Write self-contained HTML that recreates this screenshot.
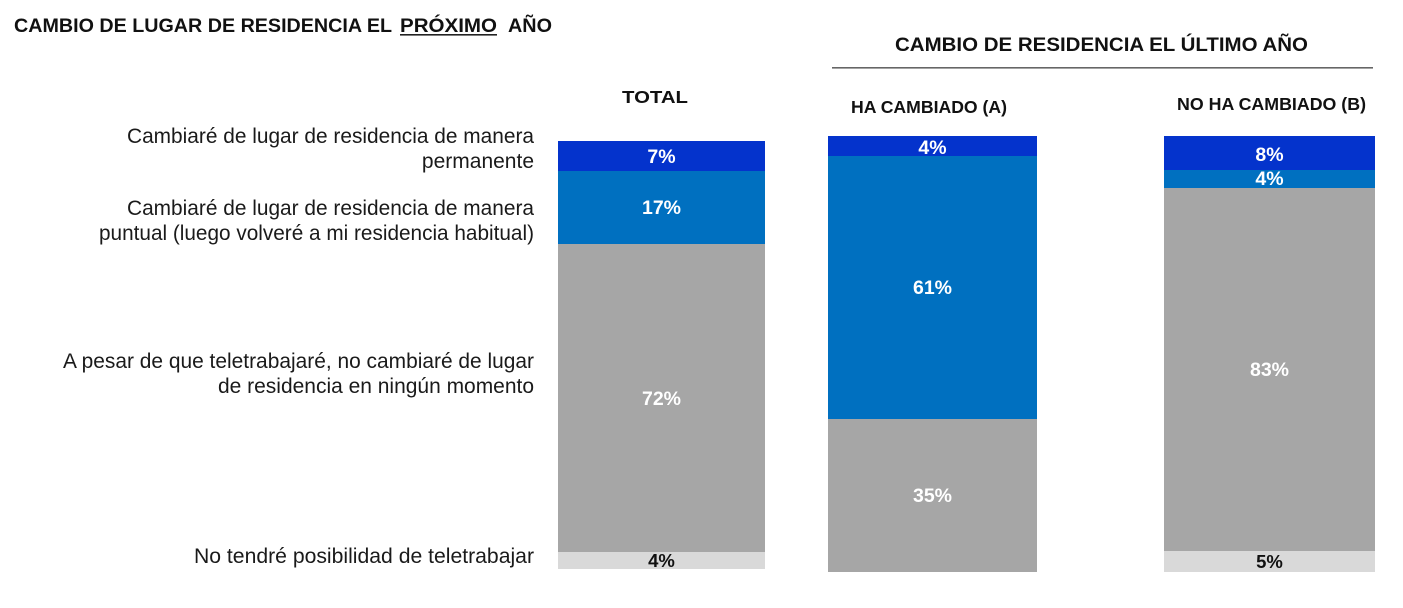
<!DOCTYPE html>
<html>
<head>
<meta charset="utf-8">
<style>
  html, body { margin: 0; padding: 0; background: #ffffff; }
  body { width: 1403px; height: 608px; overflow: hidden; }
  svg { display: block; }
  .t { font-family: "Liberation Sans", Arial, sans-serif; }
</style>
</head>
<body>
<svg width="1403" height="608" viewBox="0 0 1403 608" xmlns="http://www.w3.org/2000/svg">
  <rect x="0" y="0" width="1403" height="608" fill="#ffffff"/>

  <!-- Main title -->
  <g class="t" font-weight="bold" font-size="19" fill="#111">
    <text x="14" y="32" textLength="378" lengthAdjust="spacingAndGlyphs">CAMBIO DE LUGAR DE RESIDENCIA EL</text>
    <text x="400" y="32" textLength="97" lengthAdjust="spacingAndGlyphs">PRÓXIMO</text>
    <text x="508" y="32" textLength="44" lengthAdjust="spacingAndGlyphs">AÑO</text>
  </g>
  <rect x="400" y="34" width="97" height="1.6" fill="#222"/>

  <!-- Right header -->
  <text class="t" x="895" y="51" font-weight="bold" font-size="19" fill="#111" textLength="413" lengthAdjust="spacingAndGlyphs">CAMBIO DE RESIDENCIA EL ÚLTIMO AÑO</text>
  <rect x="832" y="67" width="541" height="1.6" fill="#666"/>

  <!-- Column headers -->
  <g class="t" font-weight="bold" font-size="17.5" fill="#111">
    <text x="622" y="103" textLength="66" lengthAdjust="spacingAndGlyphs">TOTAL</text>
    <text x="851" y="113" textLength="156" lengthAdjust="spacingAndGlyphs">HA CAMBIADO (A)</text>
    <text x="1177" y="110" textLength="189" lengthAdjust="spacingAndGlyphs">NO HA CAMBIADO (B)</text>
  </g>

  <!-- Category labels -->
  <g class="t" font-size="21" fill="#1a1a1a">
    <text x="127" y="143" textLength="407" lengthAdjust="spacingAndGlyphs">Cambiaré de lugar de residencia de manera</text>
    <text x="534" y="168" text-anchor="end">permanente</text>
    <text x="127" y="215" textLength="407" lengthAdjust="spacingAndGlyphs">Cambiaré de lugar de residencia de manera</text>
    <text x="99" y="240" textLength="435" lengthAdjust="spacingAndGlyphs">puntual (luego volveré a mi residencia habitual)</text>
    <text x="63" y="368" textLength="471" lengthAdjust="spacingAndGlyphs">A pesar de que teletrabajaré, no cambiaré de lugar</text>
    <text x="218" y="393" textLength="316" lengthAdjust="spacingAndGlyphs">de residencia en ningún momento</text>
    <text x="194" y="563" textLength="340" lengthAdjust="spacingAndGlyphs">No tendré posibilidad de teletrabajar</text>
  </g>

  <!-- Bar 1 TOTAL -->
  <rect x="558" y="141" width="207" height="30" fill="#0433CC"/>
  <rect x="558" y="171" width="207" height="73" fill="#0070C0"/>
  <rect x="558" y="244" width="207" height="308" fill="#A6A6A6"/>
  <rect x="558" y="552" width="207" height="17" fill="#D9D9D9"/>

  <!-- Bar 2 HA CAMBIADO -->
  <rect x="828" y="136" width="209" height="20" fill="#0433CC"/>
  <rect x="828" y="156" width="209" height="263" fill="#0070C0"/>
  <rect x="828" y="419" width="209" height="153" fill="#A6A6A6"/>

  <!-- Bar 3 NO HA CAMBIADO -->
  <rect x="1164" y="136" width="211" height="34" fill="#0433CC"/>
  <rect x="1164" y="170" width="211" height="18" fill="#0070C0"/>
  <rect x="1164" y="188" width="211" height="363" fill="#A6A6A6"/>
  <rect x="1164" y="551" width="211" height="21" fill="#D9D9D9"/>

  <!-- Value labels -->
  <g class="t" font-weight="bold" font-size="19.5" fill="#ffffff" text-anchor="middle">
    <text x="661.5" y="163">7%</text>
    <text x="661.5" y="214">17%</text>
    <text x="661.5" y="405">72%</text>
    <text x="932.5" y="154">4%</text>
    <text x="932.5" y="294">61%</text>
    <text x="932.5" y="502">35%</text>
    <text x="1269.5" y="161">8%</text>
    <text x="1269.5" y="185">4%</text>
    <text x="1269.5" y="376">83%</text>
  </g>
  <g class="t" font-weight="bold" font-size="18.5" fill="#111" text-anchor="middle">
    <text x="661.5" y="567">4%</text>
    <text x="1269.5" y="568">5%</text>
  </g>
</svg>
</body>
</html>
